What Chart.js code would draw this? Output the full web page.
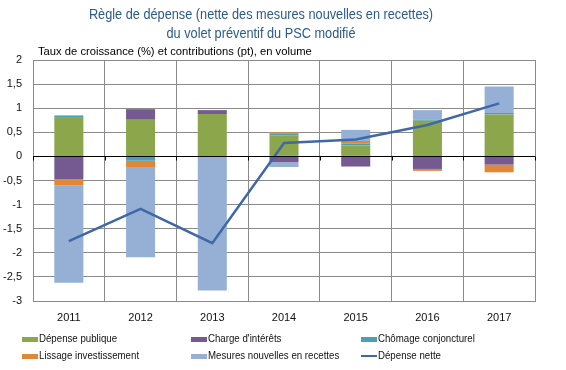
<!DOCTYPE html>
<html>
<head>
<meta charset="utf-8">
<script src="https://cdn.jsdelivr.net/npm/chart.js@4"></script>
<style>
  html, body { margin: 0; padding: 0; background: #fff; }
</style>
</head>
<body>
<canvas id="myChart" width="566" height="370"></canvas>
<script>
const years = ['2011', '2012', '2013', '2014', '2015', '2016', '2017'];
const depensePublique = [0.80, 0.76, 0.88, 0.43, 0.23, 0.74, 0.87];
const chargeInterets = [-0.47, 0.22, 0.08, -0.12, -0.21, -0.26, -0.17];
const chomageConj = [0.05, -0.09, -0.02, 0.05, 0.04, 0.02, 0.03];
const lissageInvest = [-0.13, -0.13, 0, 0.02, 0.05, -0.04, -0.16];
const mesuresRecettes = [-2.02, -1.87, -2.76, -0.10, 0.23, 0.20, 0.55];
const depenseNette = [-1.76, -1.09, -1.80, 0.28, 0.35, 0.65, 1.10];

const titleLines = ['Règle de dépense (nette des mesures nouvelles en recettes)', 'du volet préventif du PSC modifié'];
const subTitle = 'Taux de croissance (%) et contributions (pt), en volume';

const sans = '"Liberation Sans", Arial, sans-serif';

function bar(label, data, color) {
    return { type: 'bar', label: label, data: data, backgroundColor: color, borderWidth: 0, order: 1, stack: 'bars' };
}

// squeezed text, the original uses a narrow face
function narrowText(c, text, x, y, squeeze) {
    c.save();
    c.translate(x, y);
    c.scale(squeeze, 1);
    c.fillText(text, 0, 0);
    c.restore();
}

// title, subtitle, zero line and legend drawn by hand
const decor = {
    id: 'decor',
    afterDatasetsDraw(chart) {
        const c = chart.ctx;
        const area = chart.chartArea;
        const y = chart.scales.y;
        c.save();
        // zero axis
        const y0 = Math.round(y.getPixelForValue(0)) + 0.5;
        c.strokeStyle = '#000';
        c.lineWidth = 1;
        c.beginPath();
        c.moveTo(area.left, y0);
        c.lineTo(area.right, y0);
        for (let i = 0; i <= years.length; i++) {
            const px = Math.round(area.left + i * (area.right - area.left) / years.length) + 0.5;
            c.moveTo(px, y0);
            c.lineTo(px, y0 + 4);
        }
        c.stroke();

        c.fillStyle = '#2b5a8c';
        c.font = '14px ' + sans;
        c.textAlign = 'center';
        c.textBaseline = 'middle';
        narrowText(c, titleLines[0], 261, 15, 0.91);
        narrowText(c, titleLines[1], 261, 34, 0.91);

        c.fillStyle = '#000';
        c.font = '11px ' + sans;
        c.textAlign = 'left';
        narrowText(c, subTitle, 38, 52, 1.02);

        // legend
        const cols = [22, 191, 361];
        const rows = [339, 356];
        c.font = '11px ' + sans;
        chart.data.datasets.forEach((ds, i) => {
            const lx = cols[i % 3];
            const ly = rows[Math.floor(i / 3)];
            if (ds.type === 'line') {
                c.strokeStyle = ds.borderColor;
                c.lineWidth = 2;
                c.beginPath();
                c.moveTo(lx, ly);
                c.lineTo(lx + 16, ly);
                c.stroke();
            } else {
                c.fillStyle = ds.backgroundColor;
                c.fillRect(lx, ly - 2, 16, 5);
            }
            c.fillStyle = '#111';
            narrowText(c, ds.label, lx + 17, ly, 0.88);
        });
        c.restore();
    }
};

const ctx = document.getElementById('myChart').getContext('2d');
const myChart = new Chart(ctx, {
    data: {
        labels: years,
        datasets: [
            bar('Dépense publique', depensePublique, '#8ca64c'),
            bar("Charge d'intérêts", chargeInterets, '#745a90'),
            bar('Chômage conjoncturel', chomageConj, '#4aa1b4'),
            bar('Lissage investissement', lissageInvest, '#e08838'),
            bar('Mesures nouvelles en recettes', mesuresRecettes, '#95b0d4'),
            {
                type: 'line',
                label: 'Dépense nette',
                data: depenseNette,
                borderColor: '#3f68a8',
                borderWidth: 2.5,
                pointRadius: 0,
                tension: 0,
                order: 0,
                stack: 'line'
            }
        ]
    },
    options: {
        responsive: false,
        animation: false,
        layout: { padding: { top: 60, right: 31, bottom: 41, left: 0 } },
        datasets: { bar: { barPercentage: 0.405, categoryPercentage: 1 } },
        plugins: {
            legend: { display: false },
            title: { display: false },
            tooltip: { enabled: false }
        },
        scales: {
            x: {
                stacked: true,
                grid: { offset: true, color: '#8a8a8a', drawTicks: false },
                border: { color: '#8a8a8a' },
                ticks: { color: '#111', font: { family: sans, size: 11 }, padding: 10, maxRotation: 0 },
                afterFit(scale) { scale.height = 28; }
            },
            y: {
                stacked: true,
                min: -3,
                max: 2,
                grid: { color: '#8a8a8a', drawTicks: false },
                border: { color: '#8a8a8a' },
                ticks: {
                    stepSize: 0.5,
                    padding: 11,
                    color: '#111',
                    font: { family: sans, size: 11 },
                    callback: v => String(v).replace('.', ',')
                },
                afterFit(scale) { scale.width = 33; }
            }
        }
    },
    plugins: [decor]
});
</script>
</body>
</html>
